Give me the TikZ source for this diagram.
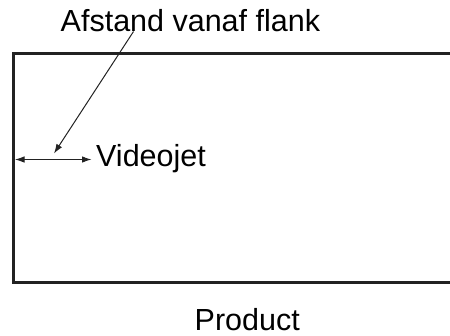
\documentclass[tikz,border=0pt]{standalone}
\usepackage{fontspec}
\setmainfont{Liberation Sans}
\usetikzlibrary{arrows.meta}
\definecolor{ink}{HTML}{222222}
\tikzset{
  lbl/.style={anchor=base west, inner sep=0pt, font=\fontsize{30.5}{36}\selectfont, text=black},
  edge/.style={line width=3pt, draw=ink},
  tip/.tip={Latex[length=9.5pt,width=6.5pt]},
  ptr/.style={line width=1pt, draw=ink, -tip},
  dim/.style={line width=1pt, draw=ink, tip-tip}
}
\begin{document}
\begin{tikzpicture}[x=1pt,y=-1pt]
\useasboundingbox (0,0) rectangle (450,335);
% product outline (open to the right)
\coordinate (tr) at (452,53.5);
\coordinate (tl) at (13.5,53.5);
\coordinate (bl) at (13.5,282);
\coordinate (br) at (452,282);
\draw[edge, line join=miter] (tr) -- (tl) -- (bl) -- (br);
% labels
\node[lbl] (afst) at (60.5,31.5) {Afstand vanaf flank};
\node[lbl] (vj) at (96,166.5) {Videojet};
\node[lbl, text depth=0pt] (prod) at (194.5,330.5) {Product};
% dimension arrow
\coordinate (dl) at (15,159.5);
\coordinate (dr) at (91.5,159.5);
\draw[dim] (dl) -- (dr);
% pointer
\coordinate (ps) at (133.5,31.5);
\coordinate (pt) at (54,153.5);
\draw[ptr] (ps) -- (pt);
\end{tikzpicture}
\end{document}
